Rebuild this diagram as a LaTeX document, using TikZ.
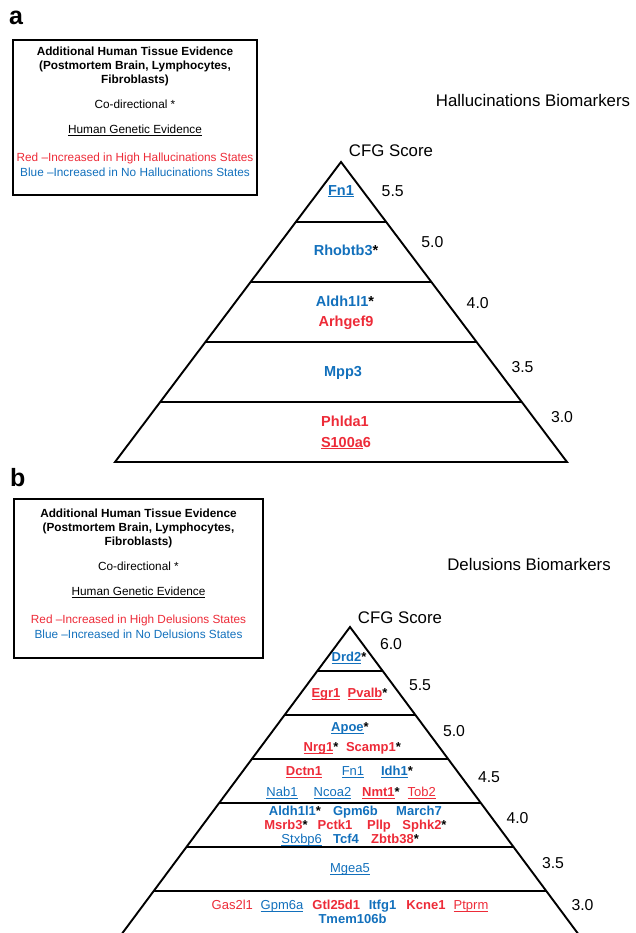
\documentclass[tikz,border=0pt]{standalone}
\usepackage{fontspec}
\setmainfont{Liberation Sans}
\usetikzlibrary{calc}

\definecolor{hired}{RGB}{237,43,56}
\definecolor{noblue}{RGB}{18,112,188}
\newcommand{\higene}[1]{\textcolor{hired}{#1}}
\newcommand{\nogene}[1]{\textcolor{noblue}{#1}}
\newsavebox\evbox
\newcommand{\humev}[1]{\sbox\evbox{#1}\rlap{\rule[-0.14em]{\wd\evbox}{0.075em}}\usebox\evbox}

\begin{document}
\begin{tikzpicture}[x=1pt,y=-1pt,
  edge/.style={line width=1.9pt},
  frame/.style={draw,line width=1.9pt},
  legend/.style={inner sep=0pt,font=\fontsize{11.8}{14}\selectfont,text height=8.5pt,text depth=0pt},
  legendbold/.style={legend,font=\fontsize{11.8}{14}\selectfont\bfseries},
  title/.style={inner sep=0pt,font=\fontsize{16.8}{19}\selectfont,text height=12pt,text depth=0pt},
  score/.style={inner sep=0pt,font=\fontsize{15.8}{18}\selectfont,text height=11.3pt,text depth=0pt},
  genea/.style={inner sep=0pt,font=\fontsize{14.5}{17}\selectfont\bfseries,text height=10.4pt,text depth=0pt},
  geneb/.style={inner sep=0pt,font=\fontsize{13}{15}\selectfont\bfseries,text height=9.3pt,text depth=0pt},
  plainb/.style={geneb,font=\fontsize{13}{15}\selectfont}]

\useasboundingbox (0,0) rectangle (636,933);

% legend boxes
\foreach \p/\dy/\x/\st/\bl/\bt/\br/\bb/\ly in
    {a/0/135/Hallucinations/13/40/257/195/25, b/462/138.5/Delusions/14/499/263/658/486} {
  \node[anchor=base west,inner sep=0pt,font=\fontsize{25}{25}\selectfont\bfseries] (lab\p) at (\bl-4,\ly) {\p};
  \node[legendbold] (hda\p) at (\x,51+\dy) {Additional Human Tissue Evidence};
  \node[legendbold] (hdb\p) at (\x,65+\dy) {(Postmortem Brain, Lymphocytes,};
  \node[legendbold] (hdc\p) at (\x,79.3+\dy) {Fibroblasts)};
  \node[legend] (co\p) at (\x,104+\dy) {Co-directional *};
  \node[legend] (gen\p) at (\x,129.5+\dy) {\humev{Human Genetic Evidence}};
  \node[legend] (up\p) at (\x,157.5+\dy) {\higene{Red –Increased in High \st{} States}};
  \node[legend] (dn\p) at (\x,172.5+\dy) {\nogene{Blue –Increased in No \st{} States}};
  \draw[frame] (\bl,\bt) rectangle (\br,\bb);
}

\node[title] (ttla) at (533,101) {Hallucinations Biomarkers};
\node[title] (ttlb) at (529,564) {Delusions Biomarkers};

% pyramid a
\coordinate (topa) at (341,162);
\coordinate (bla) at (115,462);
\coordinate (bra) at (567,462);
\draw[edge] (bla) -- (topa) -- (bra) -- cycle;
\foreach \k in {1,...,4}
  \draw[edge] ($(topa)!\k/5!(bla)$) -- ($(topa)!\k/5!(bra)$);
\node[title] (cfga) at (391,151) {CFG Score};
\foreach \s/\sx/\sy [count=\i] in {5.5/392.7/191, 5.0/432.3/241.7, 4.0/477.7/303, 3.5/522.5/366.7, 3.0/562/416.7}
  \node[score] (sa\i) at (\sx,\sy) {\s};

\node[genea] (fn1a) at (341,190) {\nogene{\humev{Fn1}}};
\node[genea] (rhobtb3) at (346,250) {\nogene{Rhobtb3}*};
\node[genea] (aldh1l1a) at (345,301) {\nogene{Aldh1l1}*};
\node[genea] (arhgef9) at (346,321) {\higene{Arhgef9}};
\node[genea] (mpp3) at (343,371) {\nogene{Mpp3}};
\node[genea] (phlda1) at (345,421) {\higene{Phlda1}};
\node[genea] (s100a6) at (346,442) {\higene{\humev{S100a}6}};

% pyramid b
\coordinate (topb) at (350,627);
\coordinate (blb) at (121,935);
\coordinate (brb) at (579,935);
\draw[edge] (blb) -- (topb) -- (brb) -- cycle;
\foreach \k in {1,...,6}
  \draw[edge] ($(topb)!\k/7!(blb)$) -- ($(topb)!\k/7!(brb)$);
\node[title] (cfgb) at (400,617) {CFG Score};
\foreach \s/\sx/\sy [count=\i] in {6.0/391/644, 5.5/420/685, 5.0/454/731, 4.5/489/777, 4.0/517.5/818, 3.5/553/863, 3.0/582.5/905}
  \node[score] (sb\i) at (\sx,\sy) {\s};

\node[geneb] (drd2) at (349,657) {\nogene{\humev{Drd2}}*};
\node[geneb] (egr1) at (326,693) {\higene{\humev{Egr1}}};
\node[geneb] (pvalb) at (367.5,693) {\higene{\humev{Pvalb}}*};
\node[geneb] (apoe) at (350,727) {\nogene{\humev{Apoe}}*};
\node[geneb] (nrg1) at (321,747) {\higene{\humev{Nrg1}}*};
\node[geneb] (scamp1) at (373.5,747) {\higene{Scamp1}*};
\node[geneb] (dctn1) at (304,771) {\higene{\humev{Dctn1}}};
\node[plainb] (fn1b) at (353,771) {\nogene{\humev{Fn1}}};
\node[geneb] (idh1) at (397,771) {\nogene{\humev{Idh1}}*};
\node[plainb] (nab1) at (282,792) {\nogene{\humev{Nab1}}};
\node[plainb] (ncoa2) at (332.5,792) {\nogene{\humev{Ncoa2}}};
\node[geneb] (nmt1) at (381,792) {\higene{\humev{Nmt1}}*};
\node[plainb] (tob2) at (421.7,792) {\higene{\humev{Tob2}}};
\node[geneb] (aldh1l1b) at (295,811) {\nogene{Aldh1l1}*};
\node[geneb] (gpm6b) at (355.5,811) {\nogene{Gpm6b}};
\node[geneb] (march7) at (419,811) {\nogene{March7}};
\node[geneb] (msrb3) at (286,825) {\higene{Msrb3}*};
\node[geneb] (pctk1) at (335,825) {\higene{Pctk1}};
\node[geneb] (pllp) at (379,825) {\higene{Pllp}};
\node[geneb] (sphk2) at (424.5,825) {\higene{Sphk2}*};
\node[plainb] (stxbp6) at (301.7,839) {\nogene{\humev{Stxbp6}}};
\node[geneb] (tcf4) at (346,839) {\nogene{Tcf4}};
\node[geneb] (zbtb38) at (395,839) {\higene{Zbtb38}*};
\node[plainb] (mgea5) at (350,868) {\nogene{\humev{Mgea5}}};
\node[plainb] (gas2l1) at (232.3,905) {\higene{Gas2l1}};
\node[plainb] (gpm6a) at (282,905) {\nogene{\humev{Gpm6a}}};
\node[geneb] (gtl25d1) at (336.3,905) {\higene{Gtl25d1}};
\node[geneb] (itfg1) at (382.5,905) {\nogene{Itfg1}};
\node[geneb] (kcne1) at (426,905) {\higene{Kcne1}};
\node[plainb] (ptprm) at (471,905) {\higene{\humev{Ptprm}}};
\node[geneb] (tmem106b) at (352.5,918.5) {\nogene{Tmem106b}};
\end{tikzpicture}
\end{document}
